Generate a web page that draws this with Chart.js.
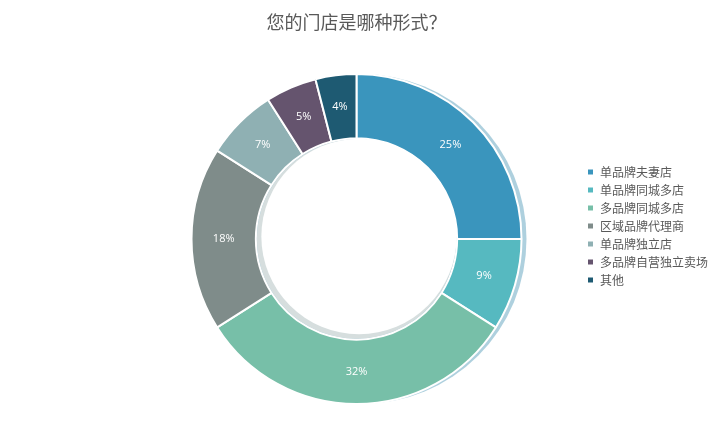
<!DOCTYPE html>
<html>
<head>
<meta charset="utf-8">
<script src="https://cdn.jsdelivr.net/npm/chart.js@4"></script>
<style>
    html, body { margin: 0; padding: 0; background: #ffffff; }
    #wrap { width: 724px; height: 427px; }
</style>
</head>
<body>
<div id="wrap"><canvas id="tiendas"></canvas></div>
<script>
const categorias = ["单品牌夫妻店", "单品牌同城多店", "多品牌同城多店", "区域品牌代理商", "单品牌独立店", "多品牌自营独立卖场", "其他"];
const porcentajes = [25, 9, 32, 18, 7, 5, 4];
const colores = ["#3a95bd", "#56b9c0", "#77bfa8", "#7f8c8a", "#8fb0b3", "#65546e", "#1e5a72"];
const titulo = "您的门店是哪种形式？";

// sombra tipo bisel, usando el centro y radios que calcula la libreria
const sombra = {
    id: "sombra",
    beforeDatasetsDraw(chart) {
        const arco = chart.getDatasetMeta(0).data[0];
        if (!arco) return;
        const ctx = chart.ctx;
        ctx.save();
        ctx.fillStyle = "rgba(165, 203, 218, 0.9)";
        ctx.beginPath();
        ctx.arc(arco.x + 5, arco.y, arco.outerRadius, 0, Math.PI * 2);
        ctx.fill();
        ctx.restore();
    },
    afterDatasetsDraw(chart) {
        const arco = chart.getDatasetMeta(0).data[0];
        if (!arco) return;
        const ctx = chart.ctx;
        ctx.save();
        ctx.fillStyle = "rgba(214, 222, 222, 1)";
        ctx.beginPath();
        ctx.arc(arco.x, arco.y, arco.innerRadius - 1, 0, Math.PI * 2);
        ctx.fill();
        ctx.fillStyle = "#ffffff";
        ctx.beginPath();
        ctx.arc(arco.x + 2.5, arco.y - 2.5, arco.innerRadius - 3, 0, Math.PI * 2);
        ctx.fill();
        ctx.restore();
    }
};

// etiquetas de porcentaje en el centro de cada sector
const etiquetas = {
    id: "etiquetas",
    afterDatasetsDraw(chart) {
        const ctx = chart.ctx;
        ctx.save();
        ctx.fillStyle = "#ffffff";
        ctx.font = "11px 'Open Sans', 'DejaVu Sans', sans-serif";
        ctx.textAlign = "center";
        ctx.textBaseline = "middle";
        chart.getDatasetMeta(0).data.forEach((arco, i) => {
            const pos = arco.tooltipPosition();
            ctx.fillText(porcentajes[i] + "%", pos.x, pos.y);
        });
        ctx.restore();
    }
};

// titulo centrado sobre el anillo, no sobre todo el lienzo
const tituloCentrado = {
    id: "tituloCentrado",
    afterDraw(chart) {
        const ctx = chart.ctx;
        const area = chart.chartArea;
        ctx.save();
        ctx.fillStyle = "#595959";
        ctx.font = "18px 'Noto Sans CJK SC', sans-serif";
        ctx.textAlign = "center";
        ctx.textBaseline = "middle";
        ctx.fillText(titulo, (area.left + area.right) / 2, 22);
        ctx.restore();
    }
};

window.addEventListener("load", () => {
    const ctx = document.getElementById("tiendas").getContext("2d");
    new Chart(ctx, {
        type: "doughnut",
        data: {
            labels: categorias,
            datasets: [{
                data: porcentajes,
                backgroundColor: colores,
                borderColor: "#ffffff",
                borderWidth: 2
            }]
        },
        options: {
            responsive: true,
            maintainAspectRatio: false,
            animation: false,
            cutout: "61%",
            layout: { padding: { left: 132, right: 6, top: 47, bottom: 22 } },
            plugins: {
                // el titulo nativo solo reserva espacio; el texto lo pinta tituloCentrado
                title: {
                    display: true,
                    text: titulo,
                    color: "rgba(0,0,0,0)",
                    font: { size: 18, weight: "normal" },
                    padding: { top: 0, bottom: 4.4 }
                },
                legend: {
                    position: "right",
                    labels: {
                        boxWidth: 7,
                        boxHeight: 7,
                        padding: 6,
                        color: "#595959",
                        font: { size: 12, family: "'Noto Sans CJK SC', sans-serif" }
                    }
                },
                tooltip: { enabled: false }
            }
        },
        plugins: [sombra, etiquetas, tituloCentrado]
    });
});
</script>
</body>
</html>
